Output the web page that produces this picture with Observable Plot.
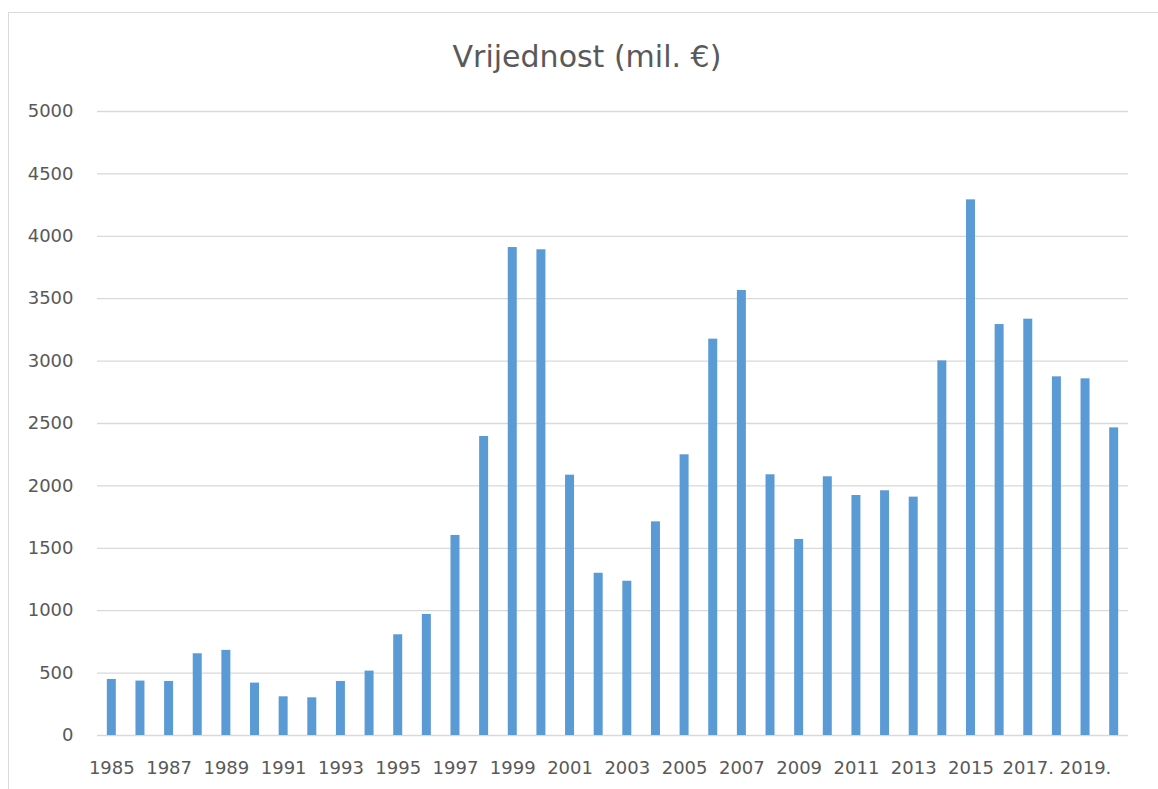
<!DOCTYPE html>
<html>
<head>
<meta charset="utf-8">
<script src="https://cdn.jsdelivr.net/npm/d3@7"></script>
<script src="https://cdn.jsdelivr.net/npm/@observablehq/plot@0.6"></script>
<style>
  html, body { margin: 0; padding: 0; background: #fff; }
  #wrap { position: relative; width: 1158px; height: 789px; overflow: hidden; font-family: "DejaVu Sans", sans-serif; }
  #frame { position: absolute; left: 8px; top: 12px; width: 1170px; height: 800px; border: 1px solid #d9d9d9; box-sizing: border-box; }
  #title { position: absolute; left: 0; top: 0; width: 1158px; height: 90px; text-align: center; line-height: 114px; font-size: 30px; color: #595959; padding-left: 16px; box-sizing: border-box; }
  #chart { position: absolute; left: 0; top: 90px; }
</style>
</head>
<body>
<div id="wrap">
  <div id="frame"></div>
  <div id="title">Vrijednost (mil. €)</div>
  <div id="chart"></div>
</div>
<script>
const years = ["1985","1986","1987","1988","1989","1990","1991","1992","1993","1994",
  "1995","1996","1997","1998","1999","2000","2001","2002","2003","2004",
  "2005","2006","2007","2008","2009","2010","2011","2012","2013","2014",
  "2015","2016","2017.","2018.","2019.","2020."];
const values = [449,436,433,655,682,420,310,302,433,516,
  807,970,1603,2396,3910,3892,2086,1300,1236,1712,
  2249,3176,3566,2089,1571,2073,1923,1961,1910,3002,
  4292,3293,3336,2874,2858,2465];
const yTicks = [0,500,1000,1500,2000,2500,3000,3500,4000,4500,5000];

const data = years.map((y, i) => ({year: y, value: values[i]}));
const shown = new Set(years.filter((d, i) => i % 2 === 0));

const chart = Plot.plot({
  width: 1158,
  height: 699,
  marginLeft: 97,
  marginRight: 30,
  marginTop: 21,
  marginBottom: 54,
  style: {fontFamily: "DejaVu Sans, sans-serif", fontSize: "18px", color: "#595959", background: "transparent"},
  x: {domain: years, paddingInner: 0.686, paddingOuter: 0.343, round: false, label: null},
  y: {domain: [0, 5000], label: null},
  marks: [
    Plot.gridY(yTicks, {stroke: "#d9d9d9", strokeOpacity: 1, strokeWidth: 1.3}),
    Plot.barY(data, {x: "year", y: "value", fill: "#5b9bd5"}),
    Plot.axisY(yTicks, {tickSize: 0, tickPadding: 24, fill: "#595959", label: null, tickFormat: d => String(d)}),
    Plot.axisX({tickSize: 0, tickPadding: 26, fill: "#595959", label: null,
      tickFormat: d => shown.has(d) ? d : ""})
  ]
});
document.getElementById("chart").appendChild(chart);
</script>
</body>
</html>
